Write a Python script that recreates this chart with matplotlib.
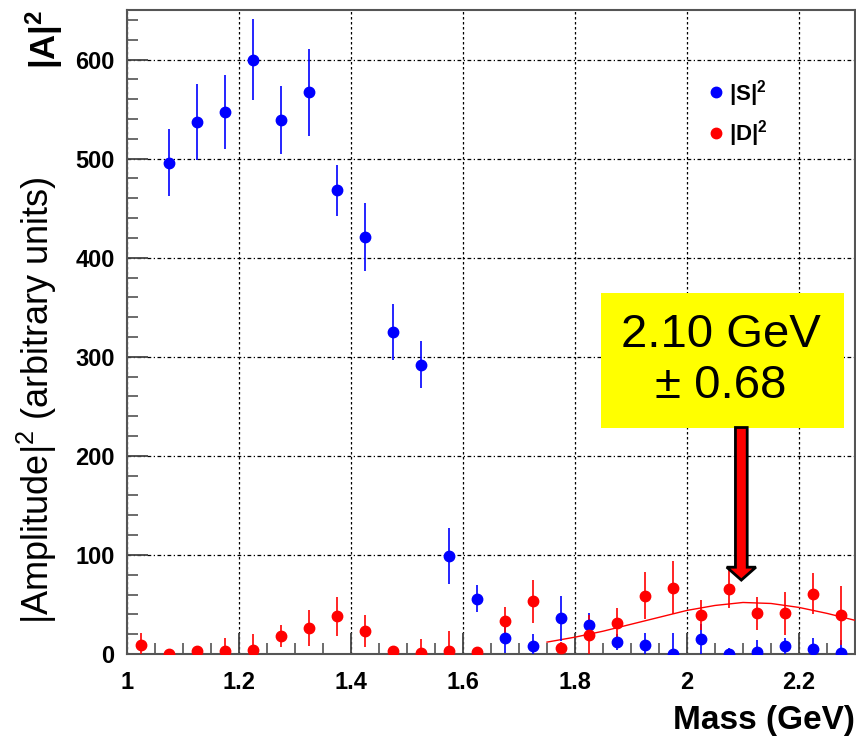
#!/usr/bin/env python3
"""
|S|^2, |D|^2 振幅の質量分布プロット
"""

import numpy as np
import matplotlib
matplotlib.use('Agg')
import matplotlib.pyplot as plt
from matplotlib.lines import Line2D
from matplotlib.patches import Rectangle, FancyArrow
from matplotlib.ticker import MultipleLocator

plt.rcParams['font.family'] = ['Liberation Sans', 'DejaVu Sans']
plt.rcParams['mathtext.fontset'] = 'custom'
plt.rcParams['mathtext.rm'] = 'Liberation Sans'
plt.rcParams['mathtext.bf'] = 'Liberation Sans:bold'
plt.rcParams['mathtext.it'] = 'Liberation Sans:italic'

# データ (質量ビン中心 GeV)
mass_s = [1.075, 1.125, 1.175, 1.225, 1.275, 1.325, 1.375, 1.425, 1.475, 1.525,
          1.575, 1.625, 1.675, 1.725, 1.775, 1.825, 1.875, 1.925, 1.975, 2.025,
          2.075, 2.125, 2.175, 2.225, 2.275]
s_vals = [496, 537, 547, 600, 539, 567, 468, 421, 325, 292,
          99, 56, 16, 8, 36, 29, 12, 9, 0, 15,
          0, 2, 8, 5, 1]
s_errs = [34, 38, 37, 41, 34, 44, 26, 34, 28, 24,
          28, 14, 15, 12, 23, 12, 8, 12, 21, 15,
          6, 12, 8, 11, 13]

mass_d = [1.025, 1.075, 1.125, 1.175, 1.225, 1.275, 1.325, 1.375, 1.425, 1.475,
          1.525, 1.575, 1.625, 1.675, 1.725, 1.775, 1.825, 1.875, 1.925, 1.975,
          2.025, 2.075, 2.125, 2.175, 2.225, 2.275]
d_vals = [9, 0, 3, 3, 4, 18, 26, 38, 23, 3,
          1, 3, 2, 33, 53, 6, 19, 31, 59, 67,
          39, 66, 41, 41, 61, 39]
d_errs = [12, 5, 5, 13, 16, 11, 18, 20, 16, 5,
          14, 20, 5, 14, 22, 6, 20, 15, 24, 27,
          15, 20, 17, 22, 21, 30]

# フィット曲線
fit_mass = [1.75, 1.80, 1.85, 1.90, 1.95, 2.00, 2.05, 2.10, 2.15, 2.20, 2.25, 2.30]
fit_vals = [12, 17, 23, 30, 37, 44, 49, 52, 51, 47, 41, 34]

# 目盛りラベル
x_ticks = [1.0, 1.2, 1.4, 1.6, 1.8, 2.0, 2.2]
x_tick_labels = ['1', '1.2', '1.4', '1.6', '1.8', '2', '2.2']
y_ticks = [0, 100, 200, 300, 400, 500, 600]
y_tick_labels = ['0', '100', '200', '300', '400', '500', '600']

peak_label = '2.10 GeV\n± 0.68'

fig = plt.figure(figsize=(8.56, 7.43), dpi=100)
ax = fig.add_axes([127 / 856, 89 / 743, 728 / 856, 644 / 743])

ax.errorbar(mass_s, s_vals, yerr=s_errs, fmt='o', color='blue', ms=7.5,
            elinewidth=1.2, capsize=0, zorder=4)
ax.errorbar(mass_d, d_vals, yerr=d_errs, fmt='o', color='red', ms=7.5,
            elinewidth=1.2, capsize=0, zorder=4)
ax.plot(fit_mass, fit_vals, color='red', lw=1.0, zorder=3)

ax.set_xlim(1.0, 2.3)
ax.set_ylim(0, 650)

# 目盛り (ROOT風)
ax.set_xticks(x_ticks, x_tick_labels, fontweight='bold')
ax.set_yticks(y_ticks, y_tick_labels, fontweight='bold')
ax.xaxis.set_minor_locator(MultipleLocator(0.05))
ax.yaxis.set_minor_locator(MultipleLocator(20))
ax.tick_params(which='both', direction='in', top=False, right=False,
               color='#444444', labelcolor='black')
ax.tick_params(which='major', length=15, width=1.3, labelsize=17, pad=9)
ax.tick_params(which='minor', length=8, width=1.1)
ax.tick_params(axis='x', which='major', pad=12)

ax.xaxis.grid(True, which='major', color='black', ls=(0, (2, 2)), lw=0.9)
ax.yaxis.grid(True, which='major', color='black', ls=(0, (3, 2, 1, 2)), lw=0.9)
ax.set_axisbelow(True)
for sp in ax.spines.values():
    sp.set_color('#555555')
    sp.set_linewidth(1.5)

# 凡例
handles = [Line2D([], [], ls='none', marker='o', color='blue', ms=7.5),
           Line2D([], [], ls='none', marker='o', color='red', ms=7.5)]
ax.legend(handles, [r'|S|$^\mathbf{2}$', r'|D|$^\mathbf{2}$'], loc='upper left',
          bbox_to_anchor=(0.80, 0.895), frameon=False, handlelength=0.6,
          handletextpad=0.3, labelspacing=0.45, borderpad=0, borderaxespad=0,
          prop={'weight': 'bold', 'size': 16})

# 注釈ボックスと矢印
ax.add_patch(Rectangle((1.846, 228.6), 0.435, 136, fc='yellow', ec='none',
                       zorder=6, clip_on=False))
ax.text(2.061, 296, peak_label, ha='center', va='center', fontsize=34,
        linespacing=1.22, zorder=8)
ax.add_patch(FancyArrow(2.097, 228.6, 0, -154, width=0.021, head_width=0.052,
                        head_length=13, length_includes_head=True, fc='red',
                        ec='black', lw=2, zorder=7))

# 軸ラベル
fig.text(37 / 856, 1 - 400 / 743, r'|Amplitude|$^\mathrm{2}$ (arbitrary units)',
         rotation=90, ha='center', va='center', fontsize=26)
fig.text(44 / 856, 1 - 39 / 743, r'|A|$^\mathbf{2}$', rotation=90, ha='center',
         va='center', fontsize=25, fontweight='bold')
fig.text(855 / 856, 1 - 720 / 743, 'Mass (GeV)', ha='right', va='center',
         fontsize=24, fontweight='bold')

fig.savefig('out.png', dpi=100)
plt.close(fig)
